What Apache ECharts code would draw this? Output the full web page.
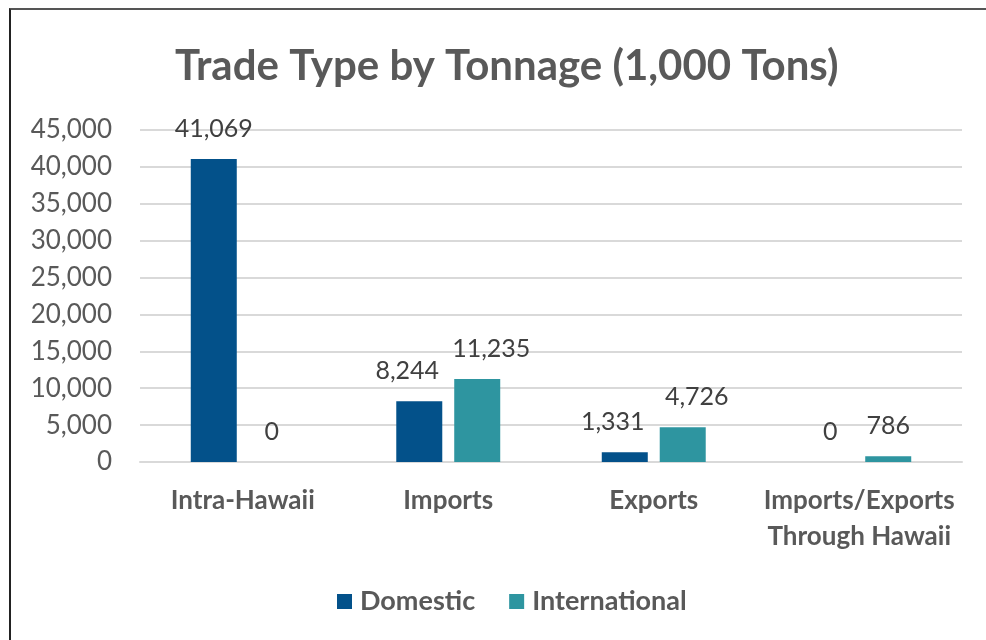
<!DOCTYPE html>
<html>
<head>
<meta charset="utf-8">
<script src="https://cdn.jsdelivr.net/npm/echarts@6/dist/echarts.min.js"></script>
<style>
html,body{margin:0;padding:0;background:#fff;}
#frame{position:absolute;left:9px;top:8px;width:977px;height:632px;border-left:2px solid #222;border-top:2px solid #555;box-sizing:border-box;pointer-events:none;z-index:2;}
#chart{position:absolute;left:0;top:0;width:986px;height:640px;}
</style>
</head>
<body>
<div id="chart"></div>
<div id="frame"></div>
<script>
const categories = ['Intra-Hawaii', 'Imports', 'Exports', 'Imports/Exports\nThrough Hawaii'];
const domestic = [41069, 8244, 1331, 0];
const international = [0, 11235, 4726, 786];
const seriesNames = ['Domestic', 'International'];
const yTicks = [0, 5000, 10000, 15000, 20000, 25000, 30000, 35000, 40000, 45000];

const FONT = 'Lato, "Noto Sans", sans-serif';
const chart = echarts.init(document.getElementById('chart'));
const fmt = v => v.toLocaleString('en-US');
const labelCfg = {
  show: true, position: 'top', distance: 18,
  fontFamily: FONT, fontSize: 25, color: '#404040',
  formatter: p => fmt(p.value)
};
// emulate spreadsheet label collision avoidance: spread labels apart when both bars of a category carry values
const spreadLabels = params => {
  const i = params.dataIndex;
  if (domestic[i] > 0 && international[i] > 0) {
    return { dx: params.seriesIndex === 0 ? -12 : 14 };
  }
};
chart.setOption({
  animation: false,
  title: {
    text: 'Trade Type by Tonnage (1,000 Tons)',
    left: 170, top: 40,
    textStyle: { fontFamily: FONT, fontSize: 42, fontWeight: 'bold', color: '#595959' }
  },
  legend: {
    data: seriesNames, bottom: 20, left: 332,
    itemWidth: 15, itemHeight: 15, itemGap: 34, icon: 'rect',
    textStyle: { fontFamily: FONT, fontSize: 27, fontWeight: 'bold', color: '#595959', padding: [0, 0, 0, 3] }
  },
  grid: { left: 140, right: 24, top: 130, bottom: 178, containLabel: false },
  xAxis: {
    type: 'category', data: categories,
    axisLine: { show: true, lineStyle: { color: '#d9d9d9', width: 2 } },
    axisTick: { show: false },
    axisLabel: { fontFamily: FONT, fontSize: 26, fontWeight: 'bold', color: '#595959', margin: 21, lineHeight: 36, interval: 0 }
  },
  yAxis: {
    type: 'value', min: yTicks[0], max: yTicks[yTicks.length - 1], interval: 5000,
    axisLine: { show: false }, axisTick: { show: false },
    splitLine: { lineStyle: { color: '#d9d9d9', width: 2 } },
    axisLabel: { fontFamily: FONT, fontSize: 26, color: '#595959', margin: 28, formatter: v => fmt(v) }
  },
  series: [
    { name: seriesNames[0], type: 'bar', data: domestic, barWidth: 46, barGap: '26%',
      itemStyle: { color: '#03518A' }, label: labelCfg, labelLayout: spreadLabels },
    { name: seriesNames[1], type: 'bar', data: international, barWidth: 46,
      itemStyle: { color: '#2E95A0' }, label: labelCfg, labelLayout: spreadLabels }
  ]
});
</script>
</body>
</html>
